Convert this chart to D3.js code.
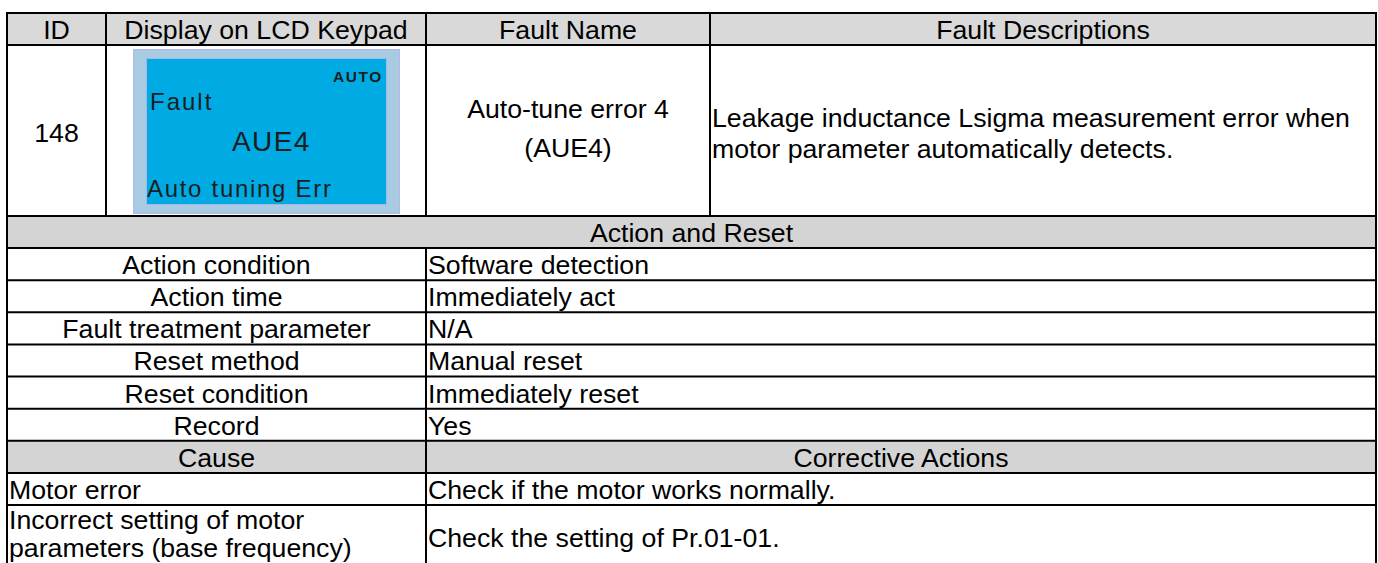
<!DOCTYPE html>
<html>
<head>
<meta charset="utf-8">
<script src="https://cdn.jsdelivr.net/npm/d3@7"></script>
<style>
  html, body { margin: 0; padding: 0; background: #fff; }
  svg { display: block; }
  text { font-family: "Liberation Sans", Arial, sans-serif; fill: #000; }
</style>
</head>
<body>
<svg id="chart" width="1378" height="563"></svg>
<script>
// ---- data (text content only) ----
const headerLabels = ["ID", "Display on LCD Keypad", "Fault Name", "Fault Descriptions"];
const faultId = "148";
const lcdMode = "AUTO";
const lcdTitle = "Fault";
const lcdCode = "AUE4";
const lcdMessage = "Auto tuning Err";
const faultNameLines = ["Auto-tune error 4", "(AUE4)"];
const descriptionLines = ["Leakage inductance Lsigma measurement error when", "motor parameter automatically detects."];
const sectionTitle = "Action and Reset";
const actionLabels = ["Action condition", "Action time", "Fault treatment parameter", "Reset method", "Reset condition", "Record"];
const actionValues = ["Software detection", "Immediately act", "N/A", "Manual reset", "Immediately reset", "Yes"];
const causeHeaders = ["Cause", "Corrective Actions"];
const causeLines = [["Motor error"], ["Incorrect setting of motor", "parameters (base frequency)"]];
const correctiveActions = ["Check if the motor works normally.", "Check the setting of Pr.01-01."];

// ---- layout ----
const svg = d3.select("#chart");
const colEdges = [7, 106, 426, 710, 1376];
const left = colEdges[0], right = colEdges[4], split = colEdges[2];
const topY = 13, headerBottom = 45, row1Bottom = 216, bottomY = 580;
const FS = 26.7;

// band scale for the lower uniform rows
const lowerKeys = ["section"].concat(actionLabels.map((d, i) => "a" + i), ["causeHead", "cause0"]);
const yBand = d3.scaleBand().domain(lowerKeys).range([row1Bottom, 505]).padding(0);
const yOf = k => yBand(k);
const bh = yBand.bandwidth();

const gFill = svg.append("g");
const gLines = svg.append("g");
const gText = svg.append("g");

// gray fills
gFill.append("rect").attr("x", left).attr("y", topY).attr("width", right - left).attr("height", headerBottom - topY).attr("fill", "#d9d9d9");
gFill.append("rect").attr("x", left).attr("y", yOf("section")).attr("width", right - left).attr("height", bh).attr("fill", "#d4d4d4");
gFill.append("rect").attr("x", left).attr("y", yOf("causeHead")).attr("width", right - left).attr("height", bh).attr("fill", "#d4d4d4");

// LCD panel
const lcd = gFill.append("g");
lcd.append("rect").attr("x", 133.5).attr("y", 49.5).attr("width", 266).attr("height", 164)
  .attr("fill", "#a8cbe2").attr("stroke", "#b4b8e6").attr("stroke-width", 1);
lcd.append("rect").attr("x", 146.5).attr("y", 58.5).attr("width", 240).attr("height", 146)
  .attr("fill", "#00aae3").attr("stroke", "#a9b4ee").attr("stroke-width", 1);

// lines
function hline(x1, x2, y) {
  gLines.append("line").attr("x1", x1).attr("x2", x2).attr("y1", y).attr("y2", y)
    .attr("stroke", "#000").attr("stroke-width", 2);
}
function vline(x, y1, y2) {
  gLines.append("line").attr("x1", x).attr("x2", x).attr("y1", y1).attr("y2", y2)
    .attr("stroke", "#000").attr("stroke-width", 2);
}
hline(left - 1, right + 1, topY);
hline(left - 1, right + 1, headerBottom);
hline(left - 1, right + 1, row1Bottom);
lowerKeys.slice(1).forEach(k => hline(left - 1, right + 1, yOf(k)));
hline(left - 1, right + 1, 505);
vline(left, topY - 1, bottomY);
vline(right, topY - 1, bottomY);
colEdges.slice(1, 4).forEach(x => vline(x, topY - 1, row1Bottom));
vline(split, yOf("a0"), bottomY);

// header text
gText.selectAll("text.head").data(headerLabels).join("text")
  .attr("class", "head")
  .attr("x", (d, i) => (colEdges[i] + colEdges[i + 1]) / 2)
  .attr("y", 39)
  .attr("text-anchor", "middle")
  .attr("font-size", FS)
  .text(d => d);

// row 1
gText.append("text").attr("x", (colEdges[0] + colEdges[1]) / 2).attr("y", 142)
  .attr("text-anchor", "middle").attr("font-size", FS).text(faultId);

gText.selectAll("text.fname").data(faultNameLines).join("text")
  .attr("class", "fname")
  .attr("x", (colEdges[2] + colEdges[3]) / 2)
  .attr("y", (d, i) => 118 + i * 39)
  .attr("text-anchor", "middle").attr("font-size", FS).text(d => d);

gText.selectAll("text.desc").data(descriptionLines).join("text")
  .attr("class", "desc")
  .attr("x", colEdges[3] + 2)
  .attr("y", (d, i) => 127 + i * 31)
  .attr("font-size", FS).text(d => d);

// LCD texts
const lcdInk = "#1e1e1e";
gText.append("text").attr("x", 383).attr("y", 82).attr("text-anchor", "end")
  .attr("font-size", 15.5).attr("font-weight", "bold").attr("letter-spacing", 1.6)
  .style("fill", lcdInk).text(lcdMode);
gText.append("text").attr("x", 150).attr("y", 110).attr("font-size", 24)
  .attr("letter-spacing", 2).style("fill", lcdInk).text(lcdTitle);
gText.append("text").attr("x", 232).attr("y", 151).attr("font-size", 28)
  .attr("letter-spacing", 1.4).style("fill", lcdInk).text(lcdCode);
gText.append("text").attr("x", 147).attr("y", 197).attr("font-size", 24)
  .attr("letter-spacing", 1.7).style("fill", lcdInk).text(lcdMessage);

// section title
gText.append("text").attr("x", (left + right) / 2).attr("y", yOf("section") + 26)
  .attr("text-anchor", "middle").attr("font-size", FS).text(sectionTitle);

// action rows
gText.selectAll("text.alab").data(actionLabels).join("text")
  .attr("class", "alab")
  .attr("x", (left + split) / 2)
  .attr("y", (d, i) => yOf("a" + i) + 26)
  .attr("text-anchor", "middle").attr("font-size", FS).text(d => d);
gText.selectAll("text.aval").data(actionValues).join("text")
  .attr("class", "aval")
  .attr("x", split + 2)
  .attr("y", (d, i) => yOf("a" + i) + 26)
  .attr("font-size", FS).text(d => d);

// cause headers
gText.selectAll("text.chead").data(causeHeaders).join("text")
  .attr("class", "chead")
  .attr("x", (d, i) => i === 0 ? (left + split) / 2 : (split + right) / 2)
  .attr("y", yOf("causeHead") + 26)
  .attr("text-anchor", "middle").attr("font-size", FS).text(d => d);

// causes
gText.append("text").attr("x", left + 2).attr("y", yOf("cause0") + 26)
  .attr("font-size", FS).text(causeLines[0][0]);
gText.selectAll("text.c2").data(causeLines[1]).join("text")
  .attr("class", "c2")
  .attr("x", left + 2)
  .attr("y", (d, i) => 529 + i * 28)
  .attr("font-size", FS).text(d => d);

gText.append("text").attr("x", split + 2).attr("y", yOf("cause0") + 26)
  .attr("font-size", FS).text(correctiveActions[0]);
gText.append("text").attr("x", split + 2).attr("y", 547)
  .attr("font-size", FS).text(correctiveActions[1]);
</script>
</body>
</html>
